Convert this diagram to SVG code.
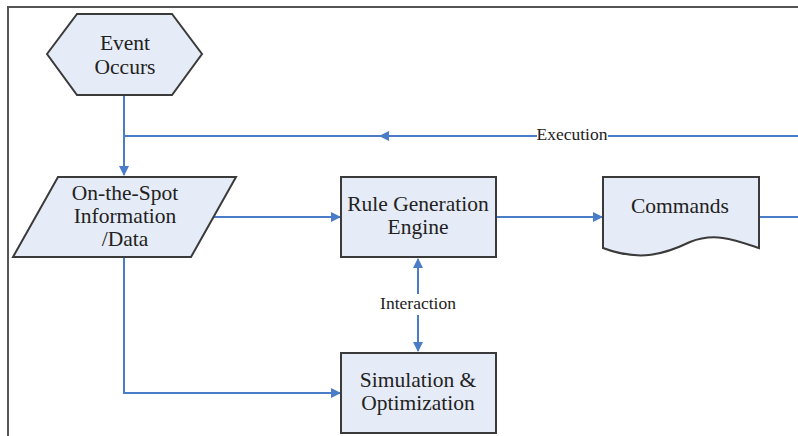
<svg xmlns="http://www.w3.org/2000/svg" width="798" height="436" viewBox="0 0 798 436">
<style>
.node{fill:#e6ecf7;stroke:#3a3a3a;stroke-width:2}
.t{font-family:'Liberation Serif','DejaVu Serif',serif;font-size:21.5px;fill:#222;text-anchor:middle}
.lbl{font-family:'Liberation Serif','DejaVu Serif',serif;font-size:17.5px;fill:#222;text-anchor:middle}
.c{fill:none;stroke:#4a7cc7;stroke-width:2}
</style>
<defs>
<marker id="ah" markerWidth="10" markerHeight="10" refX="9" refY="5" orient="auto" markerUnits="userSpaceOnUse">
<path d="M0,0 L10,5 L0,10 z" fill="#4a7cc7"/>
</marker>
</defs>
<rect width="798" height="436" fill="#fff"/>
<path d="M8,436 V7 H798" fill="none" stroke="#555" stroke-width="2"/>
<g id="connectors">
<path class="c" d="M124,95 V175" marker-end="url(#ah)"/>
<path class="c" d="M798,136 H124"/>
<path class="c" d="M560,136 H380" marker-end="url(#ah)"/>
<path class="c" d="M213,217 H340" marker-end="url(#ah)"/>
<path class="c" d="M496,217 H602" marker-end="url(#ah)"/>
<path class="c" d="M759,217 H798"/>
<path class="c" d="M124,257 V393 H340" marker-end="url(#ah)"/>
<path class="c" d="M418,294 V259" marker-end="url(#ah)"/>
<path class="c" d="M418,315 V351" marker-end="url(#ah)"/>
<rect x="537" y="127" width="71" height="18" fill="#fff"/>
<text class="lbl" x="572" y="140">Execution</text>
<text class="lbl" x="418" y="309">Interaction</text>
</g>
<g id="event">
<polygon class="node" points="47,54 77,14 172,14 202,54 172,95 77,95"/>
<text class="t" x="125" y="50">Event</text>
<text class="t" x="125" y="74">Occurs</text>
</g>
<g id="onspot">
<polygon class="node" points="58,177 236,177 191,257 13,257"/>
<text class="t" x="125" y="200">On-the-Spot</text>
<text class="t" x="125" y="223">Information</text>
<text class="t" x="125" y="246">/Data</text>
</g>
<g id="rule">
<rect class="node" x="341" y="177" width="155" height="80"/>
<text class="t" x="418" y="211">Rule Generation</text>
<text class="t" x="418" y="234">Engine</text>
</g>
<g id="commands">
<path class="node" d="M603,177 H759 V248 C735,240 715,232 690,242 C665,254 640,262 603,248 Z"/>
<text class="t" x="680" y="213">Commands</text>
</g>
<g id="simulation">
<rect class="node" x="341" y="353" width="155" height="80"/>
<text class="t" x="418" y="387">Simulation &amp;</text>
<text class="t" x="418" y="410">Optimization</text>
</g>
</svg>
